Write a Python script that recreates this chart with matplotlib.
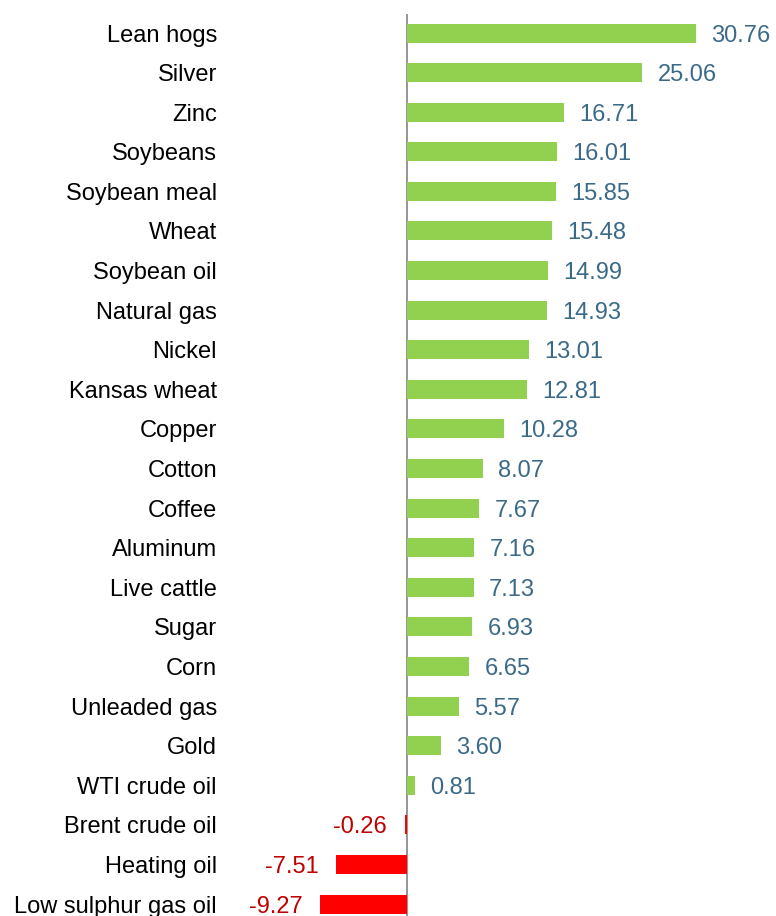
import matplotlib.pyplot as plt

# Commodity returns, sorted from best to worst
commodities = [
    "Lean hogs", "Silver", "Zinc", "Soybeans", "Soybean meal", "Wheat",
    "Soybean oil", "Natural gas", "Nickel", "Kansas wheat", "Copper",
    "Cotton", "Coffee", "Aluminum", "Live cattle", "Sugar", "Corn",
    "Unleaded gas", "Gold", "WTI crude oil", "Brent crude oil",
    "Heating oil", "Low sulphur gas oil",
]
returns = [
    30.76, 25.06, 16.71, 16.01, 15.85, 15.48, 14.99, 14.93, 13.01, 12.81,
    10.28, 8.07, 7.67, 7.16, 7.13, 6.93, 6.65, 5.57, 3.60, 0.81,
    -0.26, -7.51, -9.27,
]

plt.rcParams["font.family"] = ["Liberation Sans", "DejaVu Sans"]

W, H = 776, 916
fig = plt.figure(figsize=(W / 100, H / 100), dpi=100)
ax = fig.add_axes([230 / W, 0, 546 / W, 902 / H])

pos = list(range(len(commodities)))
colors = ["#92D050" if v >= 0 else "#FF0000" for v in returns]
ax.barh(pos, returns, height=0.48, color=colors, zorder=2)

for i, v in enumerate(returns):
    if v >= 0:
        ax.annotate(f"{v:.2f}", (v, i), xytext=(11, 0), textcoords="offset points",
                    va="center_baseline", ha="left", fontsize=17, color="#3B6A88")
    else:
        ax.annotate(f"{v:.2f}", (v, i), xytext=(-12.5, 0), textcoords="offset points",
                    va="center_baseline", ha="right", fontsize=17, color="#C00000")

ax.set_xlim(-18.84, 39.28)
ax.set_ylim(22.30, -0.48)
ax.set_yticks(pos)
ax.set_yticklabels(commodities, fontsize=17)
ax.tick_params(axis="y", length=0, pad=9.4)
ax.set_xticks([])
for s in ["top", "right", "bottom", "left"]:
    ax.spines[s].set_visible(False)
ax.axvline(0, color="#969696", lw=1.4, zorder=1)

fig.savefig("out.png", dpi=100)
